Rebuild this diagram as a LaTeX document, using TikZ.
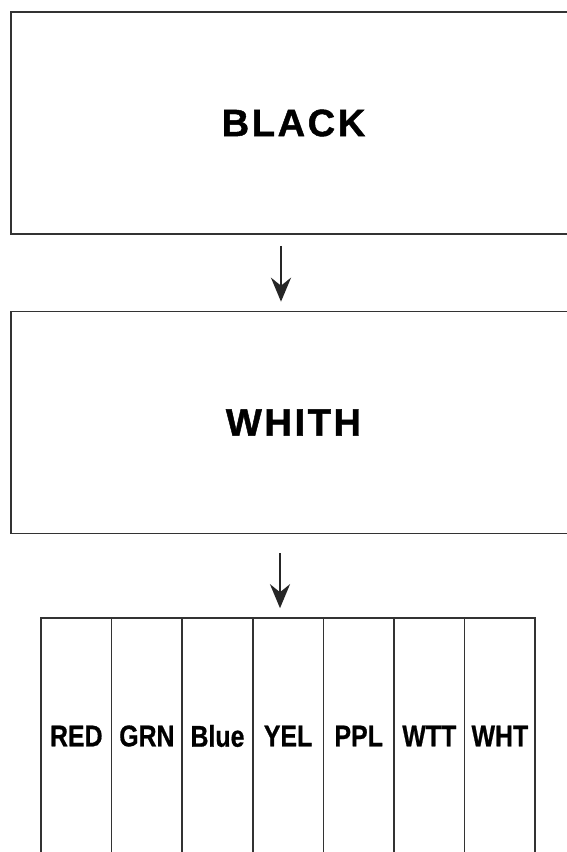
\documentclass[tikz,border=0pt]{standalone}
\usepackage{fontspec}
\setmainfont{Liberation Sans}
\newfontfamily\bigfont[LetterSpace=7,FakeBold=1.2]{Liberation Sans}
\newfontfamily\colfont[FakeBold=0.8]{Liberation Sans}
\usetikzlibrary{arrows.meta}
\tikzset{
  boxstyle/.style={draw=black!80, line width=1.6pt, rectangle, inner sep=0pt},
  bigbox/.style={boxstyle, minimum width=569pt, minimum height=222pt, font=\bigfont\bfseries\fontsize{38}{40}\selectfont},
  colbox/.style={boxstyle, minimum width=70.6pt, minimum height=236pt, font=\colfont\bfseries\fontsize{30}{32}\selectfont},
  flowarrow/.style={draw=black!85, line width=2.8pt, -{Stealth[length=24pt,width=20pt,inset=8pt]}}
}
\begin{document}
\begin{tikzpicture}[x=1pt,y=-1pt]
  \useasboundingbox (0,0) rectangle (566,852);
  \node[bigbox] (black) at (295.5,123) {\hspace*{-4pt}BLACK};
  \node[bigbox] (whith) at (295.5,422.5) {\hspace*{-4pt}WHITH};
  \foreach \t [count=\i] in {RED,GRN,Blue,YEL,PPL,WTT,WHT} {
    \node[colbox] (c\i) at ({41+70.6*(\i-0.5)},736) {\scalebox{0.83}[1]{\t}};
  }
  \coordinate (ax) at (281,0);
  \coordinate (bx) at (280,0);
  \draw[flowarrow, shorten <=11pt, shorten >=9pt] (black.south -| ax) -- (whith.north -| ax);
  \draw[flowarrow, shorten <=19pt, shorten >=9pt] (whith.south -| bx) -- (c4.north -| bx);
\end{tikzpicture}
\end{document}
